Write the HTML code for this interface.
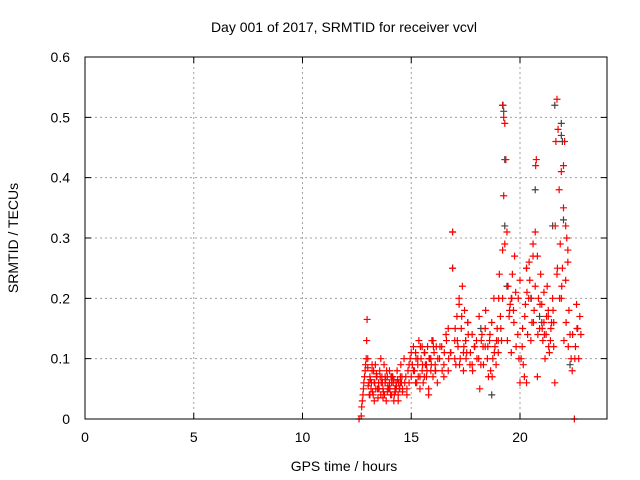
<!DOCTYPE html>
<html><head><meta charset="utf-8"><style>
body{margin:0;background:#fff}
svg{display:block;font-family:"Liberation Sans",sans-serif}
</style></head><body>
<svg id="chart" width="640" height="480">
<rect width="640" height="480" fill="#fff"/>
<text x="344" y="32" font-size="14" text-anchor="middle">Day 001 of 2017, SRMTID for receiver vcvl</text>
<text x="344" y="471" font-size="14" text-anchor="middle">GPS time / hours</text>
<text transform="translate(18,238) rotate(-90)" font-size="14" text-anchor="middle">SRMTID / TECUs</text>
<g id="grid"></g><g id="pts"></g>
<rect x="85" y="57" width="522" height="362" fill="none" stroke="#000"/>
</svg>
<script>
const xTicks=[0,5,10,15,20];
const yTicks=[0,0.1,0.2,0.3,0.4,0.5,0.6];
const grayT=[16.9,16.9,18.7,19.2,19.25,19.3,19.3,20.7,21.5,21.6,21.9,21.9,21.95,22.0,20.5,20.9,18.2,17.5,21.0,19.4,22.3,20.3];
const grayV=[0.31,0.25,0.04,0.52,0.51,0.43,0.32,0.38,0.32,0.52,0.49,0.47,0.46,0.33,0.2,0.17,0.15,0.13,0.16,0.22,0.09,0.25];
const redT=[12.6,12.7,12.72,12.75,12.78,12.8,12.82,12.85,12.88,12.9,12.93,12.95,12.97,13.0,13.05,13.1,13.15,13.2,13.25,13.3,13.35,13.4,13.45,13.5,13.55,13.6,13.65,13.7,13.75,13.8,13.85,13.9,13.95,14.0,14.05,14.1,14.15,14.2,14.25,14.3,14.35,14.4,14.45,14.5,14.55,14.6,13.0,13.1,13.2,13.3,13.4,13.5,13.6,13.7,13.8,13.9,14.0,14.1,14.2,14.3,14.4,14.5,14.6,14.7,14.75,14.8,14.85,14.9,14.95,15.0,15.05,15.1,15.15,15.2,15.25,15.3,15.35,15.4,15.45,15.5,15.55,15.6,15.65,15.7,15.75,15.8,15.85,15.9,15.95,16.0,16.05,16.1,16.15,16.2,14.8,14.9,15.0,15.1,15.2,15.3,15.4,15.5,15.6,15.7,15.8,15.9,16.0,16.1,16.3,16.4,16.5,16.6,16.7,16.8,16.9,16.9,17.0,17.05,17.1,17.15,17.2,17.25,17.3,17.35,17.4,17.45,17.5,17.55,17.6,17.7,17.8,17.9,16.5,16.7,17.0,17.2,17.4,17.6,18.0,18.1,18.15,18.2,18.25,18.3,18.4,18.5,18.55,18.6,18.65,18.7,18.75,18.8,18.85,18.9,18.95,19.0,19.05,19.1,19.15,19.2,19.2,19.22,19.25,19.25,19.3,19.3,19.35,19.4,19.45,19.5,19.55,19.6,19.65,19.7,19.75,19.8,19.9,19.95,20.0,20.05,20.1,20.15,20.2,20.25,20.3,20.35,20.4,20.45,20.5,20.55,20.6,20.65,20.7,20.7,20.72,20.75,20.8,20.85,20.9,20.95,21.0,21.05,21.1,21.15,21.2,21.25,21.3,21.35,21.4,21.45,21.5,21.55,21.55,21.6,21.62,21.65,21.7,21.75,21.8,21.85,21.9,21.9,21.95,22.0,22.0,22.05,22.1,22.1,22.15,22.2,22.25,22.3,22.35,22.4,22.5,22.55,22.6,22.65,22.7,22.75,22.8,19.6,20.0,20.3,20.6,21.1,21.3,21.7,22.2,18.4,17.8,19.0,20.8,
13.02,13.12,13.22,13.32,13.42,13.52,13.62,13.72,13.82,13.92,14.02,14.12,14.22,14.32,14.42,14.52,13.07,13.17,13.27,13.37,13.47,13.57,13.67,13.77,13.87,13.97,14.07,14.17,14.27,14.37,14.47,14.57,14.67,15.12,15.22,15.32,15.42,15.52,15.62,15.72,15.82,15.92,16.02,16.12,16.22,16.32,16.42,16.52,16.62,16.72,16.82,17.02,17.12,17.22,17.32,17.42,17.52,17.62,17.72,17.82,17.92,18.02,18.12,18.22,18.32,18.42,18.52,18.62,18.72,18.82,18.92,19.02,19.12,19.42,19.52,19.62,19.72,19.82,19.92,20.12,20.22,20.32,20.42,20.52,20.62,20.82,20.92,21.02,21.12,21.22,21.32,21.42,21.52,21.72,21.82,21.92,22.02,22.12,22.22,22.42,22.52,22.62,22.72];
const redV=[0.0,0.005,0.02,0.03,0.04,0.05,0.06,0.07,0.08,0.09,0.1,0.13,0.165,0.085,0.06,0.07,0.05,0.08,0.04,0.06,0.09,0.07,0.05,0.06,0.08,0.04,0.07,0.05,0.09,0.06,0.03,0.07,0.05,0.08,0.04,0.06,0.07,0.03,0.05,0.06,0.08,0.04,0.05,0.07,0.06,0.05,0.1,0.04,0.09,0.03,0.075,0.05,0.1,0.035,0.07,0.045,0.06,0.04,0.065,0.05,0.03,0.06,0.045,0.06,0.07,0.05,0.08,0.06,0.1,0.07,0.09,0.12,0.08,0.11,0.06,0.09,0.13,0.07,0.1,0.08,0.06,0.11,0.09,0.07,0.12,0.05,0.1,0.08,0.13,0.07,0.11,0.09,0.12,0.06,0.04,0.09,0.11,0.08,0.06,0.1,0.05,0.12,0.07,0.09,0.04,0.1,0.13,0.08,0.1,0.12,0.09,0.14,0.08,0.11,0.31,0.25,0.13,0.09,0.17,0.12,0.2,0.1,0.15,0.22,0.08,0.18,0.13,0.11,0.16,0.09,0.14,0.12,0.07,0.15,0.1,0.19,0.11,0.16,0.13,0.1,0.05,0.09,0.14,0.12,0.15,0.1,0.07,0.13,0.08,0.16,0.1,0.2,0.12,0.09,0.15,0.11,0.24,0.17,0.13,0.2,0.28,0.52,0.37,0.5,0.49,0.29,0.43,0.31,0.22,0.17,0.19,0.2,0.24,0.18,0.27,0.21,0.14,0.1,0.06,0.1,0.12,0.09,0.07,0.19,0.25,0.14,0.2,0.23,0.13,0.16,0.29,0.18,0.22,0.31,0.42,0.43,0.27,0.2,0.15,0.24,0.19,0.13,0.16,0.1,0.14,0.22,0.17,0.11,0.13,0.16,0.2,0.12,0.16,0.06,0.32,0.46,0.53,0.48,0.38,0.29,0.41,0.2,0.25,0.35,0.42,0.46,0.32,0.23,0.3,0.26,0.18,0.14,0.1,0.08,0.0,0.12,0.19,0.15,0.1,0.17,0.14,0.11,0.23,0.06,0.27,0.21,0.18,0.24,0.28,0.12,0.09,0.13,
0.07,0.055,0.065,0.045,0.06,0.07,0.05,0.06,0.045,0.065,0.055,0.05,0.07,0.04,0.055,0.06,0.09,0.04,0.06,0.08,0.05,0.035,0.07,0.06,0.04,0.08,0.05,0.07,0.06,0.045,0.065,0.05,0.07,0.1,0.08,0.1,0.07,0.12,0.09,0.11,0.08,0.1,0.09,0.12,0.08,0.1,0.12,0.08,0.11,0.13,0.1,0.11,0.15,0.13,0.09,0.17,0.12,0.1,0.14,0.11,0.08,0.12,0.1,0.17,0.13,0.09,0.18,0.12,0.14,0.07,0.11,0.13,0.2,0.15,0.13,0.18,0.2,0.16,0.12,0.2,0.15,0.17,0.21,0.26,0.2,0.16,0.14,0.19,0.15,0.14,0.17,0.12,0.15,0.18,0.25,0.2,0.22,0.13,0.16,0.12,0.14,0.1,0.15];
const NS='http://www.w3.org/2000/svg';
const X0=85,X1=607,Y0=419,Y1=57,XMAX=24,YMAX=0.6;
function xs(v){return X0+v/XMAX*(X1-X0);}
function ys(v){return Y0-v/YMAX*(Y0-Y1);}
const grid=document.getElementById('grid'),pts=document.getElementById('pts');
xTicks.forEach(t=>{
 const x=xs(t);
 if(t>0){const l=document.createElementNS(NS,'line');
 
 
 l.setAttribute('x1',x);l.setAttribute('x2',x);l.setAttribute('y1',Y1);l.setAttribute('y2',Y0);
 l.setAttribute('stroke','#a0a0a0');l.setAttribute('stroke-dasharray','2,3');grid.appendChild(l);}
 const tk=document.createElementNS(NS,'path');
 
 
 tk.setAttribute('d',`M${x},${Y0}v-6M${x},${Y1}v6`);tk.setAttribute('stroke','#000');grid.appendChild(tk);
 const tx=document.createElementNS(NS,'text');
 
 
 tx.setAttribute('x',x);tx.setAttribute('y',442);tx.setAttribute('font-size','14');tx.setAttribute('text-anchor','middle');tx.textContent=t;grid.appendChild(tx);
});
yTicks.forEach(t=>{
 const y=ys(t);
 if(t>0){const l=document.createElementNS(NS,'line');
 
 
 l.setAttribute('x1',X0);l.setAttribute('x2',X1);l.setAttribute('y1',y);l.setAttribute('y2',y);
 l.setAttribute('stroke','#a0a0a0');l.setAttribute('stroke-dasharray','2,3');grid.appendChild(l);}
 const tk=document.createElementNS(NS,'path');
 
 
 tk.setAttribute('d',`M${X0},${y}h6M${X1},${y}h-6`);tk.setAttribute('stroke','#000');grid.appendChild(tk);
 const tx=document.createElementNS(NS,'text');
 
 
 tx.setAttribute('x',70);tx.setAttribute('y',y+5);tx.setAttribute('font-size','14');tx.setAttribute('text-anchor','end');tx.textContent=t;grid.appendChild(tx);
});
function plus(t,v,c,name){
 const p=document.createElementNS(NS,'path');
 
 
 const x=xs(t),y=ys(v);
 p.setAttribute('d',`M${x-3.5},${y}h7M${x},${y-3.5}v7`);p.setAttribute('stroke',c);p.setAttribute('stroke-width','1.2');pts.appendChild(p);
}
grayT.forEach((t,i)=>plus(t,grayV[i],'#444','gray-point'));
redT.forEach((t,i)=>plus(t,redV[i],'#f00','red-point'));
</script>
</body></html>
